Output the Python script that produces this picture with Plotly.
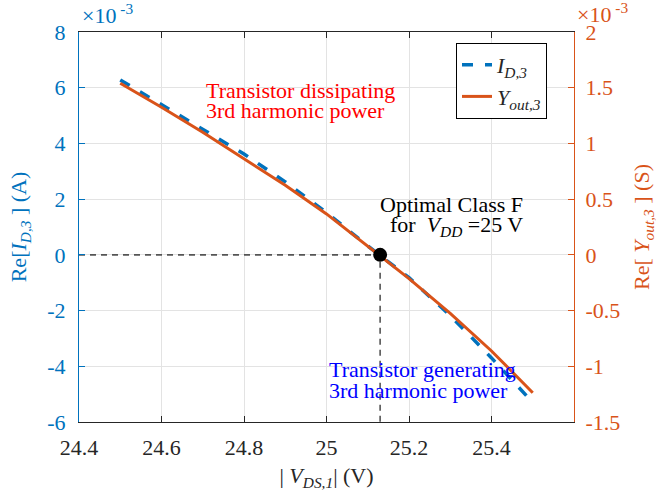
import plotly.graph_objects as go

# ---------------- data ----------------
v_ds1 = [24.5, 24.6, 24.7, 24.8, 24.9, 25.0, 25.1, 25.2, 25.3, 25.4, 25.5]
# Re[I_D,3] in units of 1e-3 A
re_id3_milli = [6.28, 5.40, 4.52, 3.62, 2.62, 1.52, 0.32, -0.82, -2.18, -3.70, -5.30]
# Re[Y_out,3] in units of 1e-3 S
re_yout3_milli = [1.540, 1.325, 1.100, 0.8625, 0.625, 0.3675, 0.075, -0.2125, -0.525, -0.8625, -1.2375]
optimal_v = 25.13
optimal_val = 0.0

x_ticks = [24.4, 24.6, 24.8, 25.0, 25.2, 25.4]
x_ticklabels = ["24.4", "24.6", "24.8", "25", "25.2", "25.4"]
left_ticks = [-6, -4, -2, 0, 2, 4, 6, 8]
left_ticklabels = ["-6", "-4", "-2", "0", "2", "4", "6", "8"]
right_ticks = [-1.5, -1, -0.5, 0, 0.5, 1, 1.5, 2]
right_ticklabels = ["-1.5", "-1", "-0.5", "0", "0.5", "1", "1.5", "2"]

# ---------------- styling ----------------
BLUE = "#0072BD"
ORANGE = "#D95319"
AX = "#262626"
GRID = "#E3E3E3"
FONT = "Liberation Serif"
W, H = 669, 497
L, R, T, B = 79, 95, 32, 75
PW, PH = W - L - R, H - T - B


def px(xp):
    return (xp - L) / PW


def py(yp):
    return (H - B - yp) / PH


def fnt(size=22, color=AX):
    return dict(family=FONT, size=size, color=color)


fig = go.Figure()

# reference dashed lines through the optimal point
fig.add_trace(go.Scatter(
    x=[x_ticks[0], optimal_v, optimal_v], y=[optimal_val, optimal_val, left_ticks[0]],
    mode="lines", line=dict(color="#555555", width=1.6, dash="6px,5px"),
    showlegend=False, hoverinfo="skip", yaxis="y"))

fig.add_trace(go.Scatter(
    x=v_ds1, y=re_id3_milli, mode="lines",
    line=dict(color=BLUE, width=3.5, dash="11px,12px"),
    name="<i>I</i><sub><i>D,3</i></sub>", yaxis="y"))

fig.add_trace(go.Scatter(
    x=v_ds1, y=re_yout3_milli, mode="lines",
    line=dict(color=ORANGE, width=3),
    name="<i>Y</i><sub><i>out,3</i></sub>", yaxis="y2"))

fig.add_trace(go.Scatter(
    x=[optimal_v], y=[optimal_val], mode="markers",
    marker=dict(color="black", size=14), showlegend=False, yaxis="y2"))

annotations = [
    dict(text="Transistor dissipating", x=px(204), y=py(90), font=fnt(22, "#FF0000")),
    dict(text="3rd harmonic power", x=px(204), y=py(111), font=fnt(22, "#FF0000")),
    dict(text="Transistor generating", x=px(327), y=py(369), font=fnt(22, "#0000FF")),
    dict(text="3rd harmonic power", x=px(327), y=py(390), font=fnt(22, "#0000FF")),
    dict(text="Optimal Class F", x=px(451), y=py(204), xanchor="center", font=fnt(22, "black")),
    dict(text="for  <i>V</i><sub><i>DD</i></sub> =25 V", x=px(456), y=py(226), xanchor="center",
         font=fnt(22, "black")),
    dict(text="×10<sup> -3</sup>", x=px(80), y=py(30), yanchor="bottom", font=fnt(22, BLUE)),
    dict(text="×10<sup> -3</sup>", x=px(575), y=py(29), yanchor="bottom", font=fnt(22, ORANGE)),
]
for a in annotations:
    a.setdefault("xanchor", "left")
    a.setdefault("yanchor", "middle")
    a.update(xref="paper", yref="paper", showarrow=False)

fig.update_layout(
    width=W, height=H,
    margin=dict(l=L, r=R, t=T, b=B, autoexpand=False),
    paper_bgcolor="white", plot_bgcolor="white",
    font=fnt(22, AX),
    showlegend=True,
    legend=dict(x=px(456), y=py(43), xanchor="left", yanchor="top",
                bgcolor="white", bordercolor="black", borderwidth=1,
                font=fnt(22, AX), itemwidth=30),
    annotations=annotations,
    xaxis=dict(range=[24.4, 25.6], tickvals=x_ticks, ticktext=x_ticklabels,
               ticks="inside", ticklen=6, tickcolor=AX, showline=True, linecolor=AX, linewidth=1,
               mirror="ticks", showgrid=True, gridcolor=GRID, gridwidth=1, zeroline=False,
               tickfont=fnt(22, AX), ticklabelstandoff=6,
               title=dict(text="| <i>V</i><sub><i>DS,1</i></sub>| (V)", font=fnt(22, AX), standoff=8),
               automargin=False),
    yaxis=dict(range=[-6, 8], tickvals=left_ticks, ticktext=left_ticklabels,
               ticks="inside", ticklen=6, tickcolor=BLUE, showline=True, linecolor=BLUE, linewidth=1,
               showgrid=True, gridcolor=GRID, gridwidth=1, zeroline=False,
               tickfont=fnt(22, BLUE), ticklabelstandoff=8,
               title=dict(text="Re[<i>I</i><sub><i>D,3</i></sub> ] (A)", font=fnt(22, BLUE), standoff=14),
               automargin=False),
    yaxis2=dict(range=[-1.5, 2], tickvals=right_ticks, ticktext=right_ticklabels,
                overlaying="y", side="right",
                ticks="inside", ticklen=6, tickcolor=ORANGE, showline=True, linecolor=ORANGE, linewidth=1,
                showgrid=False, zeroline=False,
                tickfont=fnt(22, ORANGE), ticklabelstandoff=6,
                title=dict(text="Re[ <i>Y</i><sub><i>out,3</i></sub> ] (S)", font=fnt(22, ORANGE), standoff=14),
                automargin=False),
)

fig.write_html("out.html")
